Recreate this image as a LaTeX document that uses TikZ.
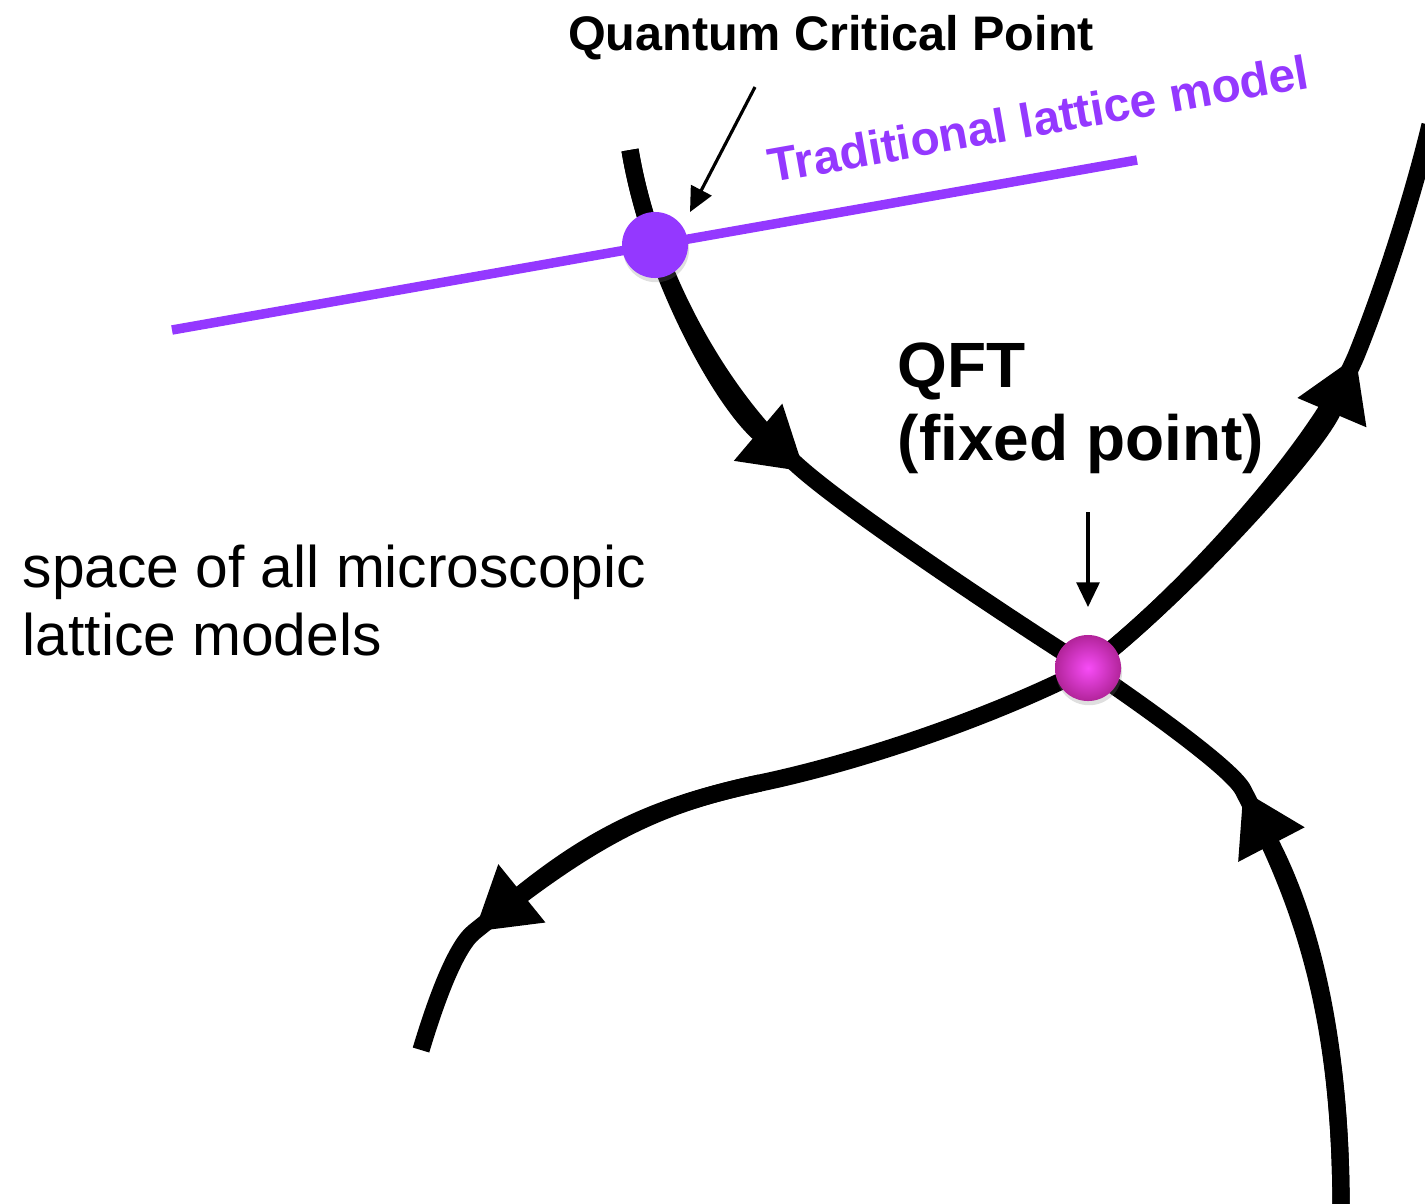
\documentclass[tikz,border=0pt]{standalone}
\usepackage{fontspec}
\setmainfont{Liberation Sans}
\usetikzlibrary{arrows.meta, shadows}
\definecolor{latpurple}{HTML}{9438FF}
\definecolor{fpinner}{HTML}{F74CF7}
\definecolor{fpouter}{HTML}{B2249A}

\begin{document}
\begin{tikzpicture}[x=0.01cm, y=-0.01cm,
  flow/.style={line width=4.9pt},
  flowtip/.style={-{Triangle[length=17.5pt, width=20pt]}},
  pointer/.style={line width=0.9pt, -{Triangle[length=7pt, width=6.5pt]}},
  ball/.style={circle, minimum size=0.66cm, inner sep=0pt,
    drop shadow={opacity=0.25, shadow xshift=0.3pt, shadow yshift=-1.2pt}},
  lab/.style={inner sep=0pt, anchor=base west}]
  \useasboundingbox (0,0) rectangle (1425,1203);
  \coordinate (critpt) at (655,245);
  \coordinate (fixpt) at (1088,668);

  % the traditional lattice model
  \coordinate (latA) at (172,330);
  \coordinate (latB) at (1137,160);
  \draw[latpurple, line width=2.7pt] (latA) -- (latB);

  % flow into the fixed point, from above
  \coordinate (topend) at (630,150);
  \coordinate (toptip) at (805,472);
  \draw[flow] (topend) .. controls (650,270) and (720,400) .. (toptip)
    .. controls (858,517) and (1000,612) .. (fixpt);
  \draw[flow, flowtip] (topend) .. controls (650,270) and (720,400) .. (toptip);

  % ... and from below
  \coordinate (botend) at (1341,1215);
  \coordinate (bottip) at (1243,790);
  \draw[flow] (botend) .. controls (1342,1000) and (1294,888) .. (bottip)
    .. controls (1233,770) and (1150,710) .. (fixpt);
  \draw[flow, flowtip] (botend) .. controls (1342,1000) and (1294,888) .. (bottip);

  % flow out of the fixed point
  \coordinate (urtip) at (1356,356);
  \coordinate (urend) at (1430,125);
  \draw[flow] (fixpt) .. controls (1178,600) and (1316,450) .. (urtip)
    .. controls (1382,292) and (1412,200) .. (urend);
  \draw[flow, flowtip] (fixpt) .. controls (1178,600) and (1316,450) .. (urtip);
  \coordinate (llbend) at (760,783);
  \coordinate (lltip) at (474,932);
  \coordinate (llend) at (421,1050);
  \draw[flow] (fixpt) .. controls (990,718) and (860,762) .. (llbend)
    .. controls (662,804) and (599,831) .. (lltip)
    .. controls (454,948) and (433,1010) .. (llend);
  \draw[flow, flowtip] (llbend) .. controls (662,804) and (599,831) .. (lltip);

  % the two points
  \node[ball, fill=latpurple] (qcp) at (critpt) {};
  \node[ball, inner color=fpinner, outer color=fpouter] (fp) at (fixpt) {};

  % labels
  \node[lab, anchor=base, font=\bfseries\fontsize{13.8}{16}\selectfont]
    (qcplabel) at (831,50) {Quantum Critical Point};
  \node[lab, text=latpurple, rotate=10, font=\bfseries\fontsize{13.6}{16}\selectfont]
    (latlabel) at (771,183) {Traditional lattice model};
  \node[lab, align=left, font=\bfseries\fontsize{18.2}{20.5}\selectfont]
    (fplabel) at (897,460) {QFT\\(fixed point)};
  \node[lab, align=left, font=\fontsize{16.7}{19.1}\selectfont]
    (spacelabel) at (22,655) {space of all microscopic\\lattice models};

  % pointers
  \coordinate (qcpfrom) at (755,87);
  \coordinate (qcpto) at (690,212);
  \draw[pointer] (qcpfrom) -- (qcpto);
  \coordinate (fpfrom) at (1088,512);
  \coordinate (fpto) at (1088,607);
  \draw[pointer] (fpfrom) -- (fpto);
\end{tikzpicture}
\end{document}
